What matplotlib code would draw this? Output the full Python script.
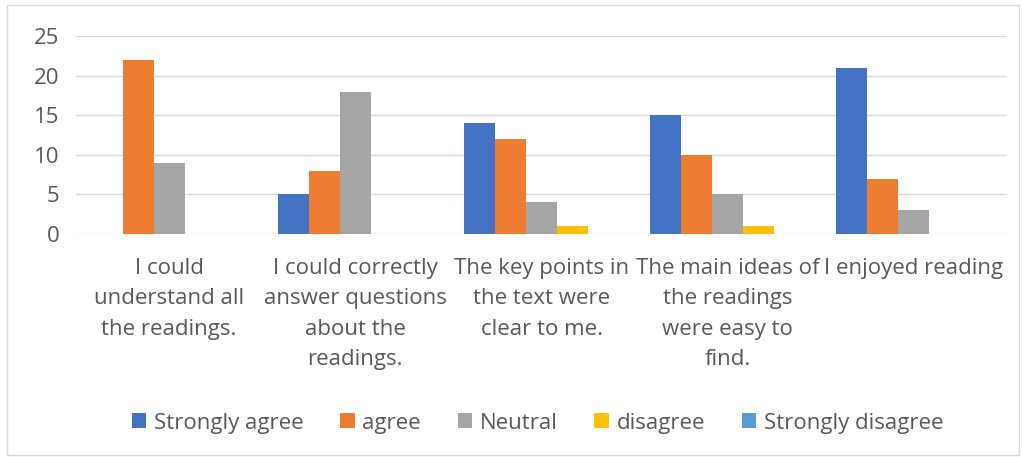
import matplotlib
matplotlib.use("Agg")
import matplotlib.pyplot as plt
import numpy as np
from matplotlib.patches import Rectangle

categories = [
    "I could\nunderstand all\nthe readings.",
    "I could correctly\nanswer questions\nabout the\nreadings.",
    "The key points in\nthe text were\nclear to me.",
    "The main ideas of\nthe readings\nwere easy to\nfind.",
    "I enjoyed reading",
]
series_names = ["Strongly agree", "agree", "Neutral", "disagree", "Strongly disagree"]
strongly_agree = [0, 5, 14, 15, 21]
agree = [22, 8, 12, 10, 7]
neutral = [9, 18, 4, 5, 3]
disagree = [0, 0, 1, 1, 0]
strongly_disagree = [0, 0, 0, 0, 0]
colors = ["#4472C4", "#ED7D31", "#A5A5A5", "#FFC000", "#5B9BD5"]
yticks = [0, 5, 10, 15, 20, 25]

plt.rcParams['font.family'] = ['Open Sans', 'DejaVu Sans']
text_color = '#595959'

fig = plt.figure(figsize=(10.22, 4.57), dpi=100)
ax = fig.add_axes([0.0744, 0.488, 0.911, 0.433])

# chart border
fig.patches.append(Rectangle((0.007, 0.005), 0.99, 0.985, transform=fig.transFigure,
                             fill=False, edgecolor='#D9D9D9', linewidth=1))

x = np.arange(len(categories))
w = 1 / 6
all_series = [strongly_agree, agree, neutral, disagree, strongly_disagree]
for i, (vals, name, c) in enumerate(zip(all_series, series_names, colors)):
    ax.bar(x + (i - 2) * w, vals, width=w, color=c, label=name, zorder=3)

ax.set_xlim(-0.5, 4.5)
ax.set_ylim(0, 25)
ax.set_yticks(yticks)
ax.yaxis.grid(True, color='#D9D9D9', linewidth=1, zorder=0)
for s in ax.spines.values():
    s.set_visible(False)
ax.tick_params(axis='both', length=0, colors=text_color, labelsize=16)
ax.tick_params(axis='y', pad=12)
ax.tick_params(axis='x', pad=17)
ax.set_xticks(x)
ax.set_xticklabels(categories, linespacing=1.6)

leg = fig.legend(loc='center', bbox_to_anchor=(0.526, 0.074), ncol=5, frameon=False,
                 fontsize=16, handlelength=0.65, handleheight=0.65, handletextpad=0.35,
                 columnspacing=1.65, labelcolor=text_color)

fig.savefig("out.png", dpi=100)
